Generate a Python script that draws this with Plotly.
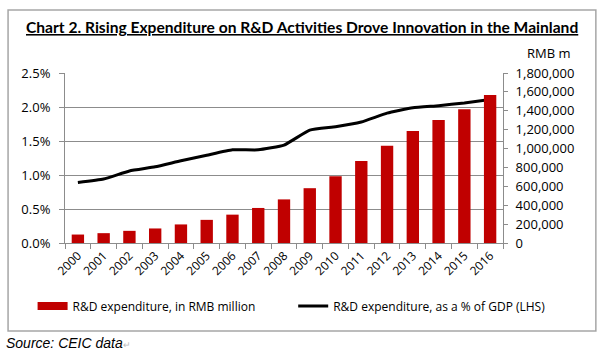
import plotly.graph_objects as go

years = [str(y) for y in range(2000, 2017)]
rd_expenditure = [89570, 104240, 128760, 153960, 196630, 245000, 300310, 371020, 461600,
                  580210, 706260, 868700, 1029840, 1184660, 1301560, 1416990, 1567750]
rd_pct_gdp = [0.89, 0.94, 1.06, 1.12, 1.21, 1.29, 1.37, 1.37, 1.44,
              1.66, 1.71, 1.78, 1.91, 1.99, 2.02, 2.06, 2.11]
left_ticks = [0, 0.5, 1.0, 1.5, 2.0, 2.5]
right_ticks = list(range(0, 1800001, 200000))

FONT = "Open Sans"
GRID = "#8C8C8C"
RED = "#C00000"

fig = go.Figure()
fig.add_trace(go.Bar(
    x=years, y=rd_expenditure, yaxis="y2", name="R&D expenditure, in RMB million",
    marker=dict(color=RED, line=dict(width=0)), showlegend=False,
))
# legend proxy for the bars (wide red swatch, as in the reference)
fig.add_trace(go.Scatter(
    x=[None], y=[None], yaxis="y2", mode="lines", name="R&D expenditure, in RMB million",
    line=dict(color=RED, width=8), legend="legend",
))
fig.add_trace(go.Scatter(
    x=years, y=rd_pct_gdp, yaxis="y", mode="lines",
    name="R&D expenditure, as a % of GDP (LHS)",
    line=dict(color="black", width=3, shape="spline", smoothing=0.4),
    legend="legend2",
))

leg_common = dict(orientation="h", xanchor="left", yanchor="middle",
                  font=dict(size=12, family=FONT), bgcolor="rgba(0,0,0,0)")

fig.update_layout(
    width=600, height=357,
    margin=dict(l=65, r=97, t=73, b=114, autoexpand=False),
    paper_bgcolor="white", plot_bgcolor="white",
    font=dict(family=FONT, size=12, color="#000000"),
    bargap=0.52,
    showlegend=True,
    legend=dict(x=-0.074, y=-0.37, **leg_common),
    legend2=dict(x=0.521, y=-0.37, **leg_common),
    xaxis=dict(type="category", tickangle=-45, showgrid=False, showline=True,
               linecolor=GRID, linewidth=1, ticks="outside", tickson="boundaries",
               ticklen=5, tickcolor=GRID, tickfont=dict(size=12)),
    yaxis=dict(range=[0, 2.5], tickvals=left_ticks,
               ticktext=[f"{v:.1f}%" for v in left_ticks],
               showgrid=True, gridcolor=GRID, gridwidth=1, showline=True,
               linecolor=GRID, ticks="outside", ticklen=5, tickcolor=GRID,
               ticklabelstandoff=6, tickfont=dict(size=13), zeroline=False),
    yaxis2=dict(range=[0, 1800000], tickvals=right_ticks,
                ticktext=[f"{v:,}" for v in right_ticks],
                overlaying="y", side="right", showgrid=False, showline=True,
                linecolor=GRID, ticks="outside", ticklen=4, tickcolor=GRID,
                ticklabelstandoff=5, tickfont=dict(size=13), zeroline=False),
    annotations=[
        dict(text="<u><b>Chart 2. Rising Expenditure on R&D Activities Drove Innovation in the Mainland</b></u>",
             xref="paper", yref="paper", x=0.54, y=1.27, xanchor="center", yanchor="middle",
             showarrow=False, font=dict(size=15.6, family="Lato")),
        dict(text="RMB m", xref="paper", yref="paper", x=1.105, y=1.118,
             xanchor="center", yanchor="middle", showarrow=False, font=dict(size=13)),
        dict(text="<i>Source: CEIC data</i><span style='color:#BBBBBB;font-size:9px'>↵</span>",
             xref="paper", yref="paper", x=-0.14, y=-0.588, xanchor="left", yanchor="middle",
             showarrow=False, font=dict(size=14, family="Liberation Sans")),
    ],
    shapes=[dict(type="rect", xref="paper", yref="paper", x0=-0.130, x1=1.212,
                 y0=-0.518, y1=1.37, layer="above",
                 line=dict(color="#A6A6A6", width=1.5))],
)

fig.write_html("out.html", config={"displayModeBar": False},
               post_script="document.body.style.margin='0';document.body.style.overflow='hidden';")
